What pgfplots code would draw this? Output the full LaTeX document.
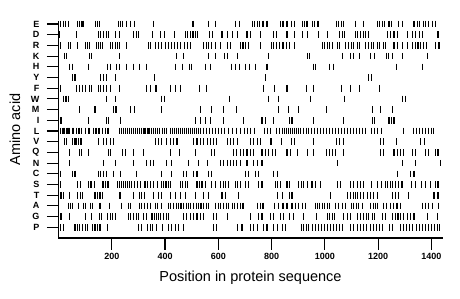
\documentclass[border=0pt]{standalone}
\usepackage{fontspec}
\setmainfont{Liberation Sans}
\usepackage{pgfplots}
\pgfplotsset{compat=1.18}
\begin{document}
\begin{tikzpicture}
\begin{axis}[
  scale only axis, width=384bp, height=217.2bp,
  xmin=0, xmax=1442, ymin=0, ymax=20.3,
  axis lines*=left,
  axis line style={line width=1.4bp},
  clip=false,
  xtick={200,400,...,1400},
  ytick={1,...,20},
  yticklabels={P,G,A,T,S,C,N,Q,V,L,I,M,W,F,Y,H,K,R,D,E},
  tick align=outside,
  major tick length=11.5bp,
  tick style={black, line width=1.1bp},
  ticklabel style={font=\bfseries\fontsize{9bp}{10bp}\selectfont},
  yticklabel style={xshift=-4bp},
  /pgf/number format/assume math mode=true,
  /pgf/number format/1000 sep={},
  xlabel={Position in protein sequence},
  ylabel={Amino acid},
  label style={font=\fontsize{14.5bp}{16bp}\selectfont},
  xlabel style={at={(axis description cs:0.5,0)}, anchor=center, yshift=-40bp},
  ylabel style={at={(axis description cs:-0.1133,0.5)}, anchor=center},
  cycle list={{black, only marks, mark=|, mark size=3.3bp, mark options={solid, black, line width=1.1bp}}},
  every axis plot post/.append style={black, only marks, mark=|, mark size=3.3bp, mark options={solid, black, fill=black, line width=1.1bp}},
]
% E
\addplot coordinates {(9,20)(18,20)(26,20)(37,20)(71,20)(78,20)(85,20)(92,20)(138,20)(146,20)(154,20)(227,20)(234,20)(242,20)(254,20)(269,20)(285,20)(357,20)(505,20)(564,20)(591,20)(664,20)(680,20)(729,20)(737,20)(746,20)(754,20)(768,20)(783,20)(833,20)(843,20)(858,20)(874,20)(886,20)(917,20)(925,20)(931,20)(936,20)(953,20)(961,20)(971,20)(977,20)(1044,20)(1053,20)(1062,20)(1069,20)(1115,20)(1147,20)(1197,20)(1207,20)(1216,20)(1225,20)(1241,20)(1250,20)(1278,20)(1291,20)(1335,20)(1348,20)(1357,20)(1369,20)(1379,20)(1391,20)(1404,20)(1416,20)};
% D
\addplot coordinates {(3,19)(66,19)(150,19)(159,19)(169,19)(179,19)(189,19)(213,19)(229,19)(281,19)(292,19)(300,19)(354,19)(382,19)(397,19)(435,19)(476,19)(485,19)(495,19)(505,19)(514,19)(522,19)(567,19)(577,19)(614,19)(633,19)(652,19)(673,19)(708,19)(720,19)(758,19)(808,19)(818,19)(858,19)(886,19)(915,19)(934,19)(977,19)(1009,19)(1056,19)(1065,19)(1074,19)(1115,19)(1124,19)(1134,19)(1144,19)(1154,19)(1164,19)(1237,19)(1247,19)(1260,19)(1272,19)(1310,19)(1329,19)(1341,19)(1354,19)(1366,19)(1425,19)};
% R
\addplot coordinates {(9,18)(37,18)(46,18)(71,18)(100,18)(108,18)(116,18)(144,18)(151,18)(159,18)(166,18)(194,18)(202,18)(213,18)(221,18)(229,18)(257,18)(338,18)(347,18)(363,18)(374,18)(386,18)(401,18)(412,18)(423,18)(435,18)(446,18)(457,18)(472,18)(483,18)(495,18)(545,18)(555,18)(564,18)(573,18)(591,18)(608,18)(635,18)(645,18)(683,18)(693,18)(703,18)(714,18)(758,18)(800,18)(806,18)(818,18)(831,18)(843,18)(856,18)(868,18)(886,18)(990,18)(999,18)(1009,18)(1019,18)(1028,18)(1047,18)(1056,18)(1078,18)(1090,18)(1099,18)(1109,18)(1122,18)(1132,18)(1153,18)(1165,18)(1174,18)(1184,18)(1197,18)(1207,18)(1220,18)(1228,18)(1260,18)(1272,18)(1291,18)(1310,18)(1329,18)(1341,18)(1350,18)(1360,18)(1370,18)(1383,18)(1416,18)(1429,18)};
% K
\addplot coordinates {(24,17)(31,17)(116,17)(125,17)(229,17)(442,17)(470,17)(564,17)(589,17)(622,17)(633,17)(673,17)(788,17)(936,17)(943,17)(1065,17)(1097,17)(1109,17)(1132,17)(1172,17)(1187,17)(1232,17)(1240,17)(1253,17)(1291,17)(1385,17)};
% H
\addplot coordinates {(43,16)(53,16)(112,16)(185,16)(194,16)(219,16)(228,16)(257,16)(281,16)(304,16)(332,16)(438,16)(467,16)(492,16)(501,16)(551,16)(570,16)(648,16)(664,16)(680,16)(702,16)(717,16)(739,16)(783,16)(956,16)(965,16)(1019,16)(1032,16)(1270,16)(1366,16)};
% Y
\addplot coordinates {(53,15)(62,15)(159,15)(169,15)(179,15)(213,15)(359,15)(777,15)(1165,15)(1174,15)};
% F
\addplot coordinates {(9,14)(68,14)(78,14)(91,14)(100,14)(116,14)(125,14)(150,14)(159,14)(169,14)(179,14)(194,14)(229,14)(332,14)(344,14)(363,14)(369,14)(420,14)(438,14)(457,14)(530,14)(557,14)(770,14)(811,14)(858,14)(931,14)(959,14)(1062,14)(1097,14)(1132,14)(1207,14)};
% W
\addplot coordinates {(18,13)(28,13)(37,13)(181,13)(213,13)(388,13)(397,13)(643,13)(789,13)(827,13)(946,13)(1074,13)(1291,13)(1303,13)};
% M
\addplot coordinates {(78,12)(137,12)(206,12)(216,12)(269,12)(287,12)(388,12)(532,12)(576,12)(620,12)(668,12)(827,12)(865,12)(902,12)(1006,12)(1178,12)(1209,12)(1253,12)};
% I
\addplot coordinates {(6,11)(12,11)(112,11)(179,11)(187,11)(234,11)(514,11)(532,11)(551,11)(570,11)(620,11)(695,11)(764,11)(777,11)(808,11)(868,11)(877,11)(959,11)(1069,11)(1178,11)(1187,11)(1241,11)(1250,11)(1260,11)};
% L
\addplot coordinates {(9,10)(17,10)(24,10)(32,10)(36,10)(43,10)(51,10)(58,10)(66,10)(77,10)(88,10)(100,10)(111,10)(118,10)(130,10)(141,10)(152,10)(164,10)(175,10)(186,10)(228,10)(235,10)(243,10)(250,10)(258,10)(265,10)(273,10)(280,10)(288,10)(295,10)(303,10)(310,10)(318,10)(325,10)(333,10)(340,10)(348,10)(356,10)(363,10)(371,10)(378,10)(389,10)(397,10)(404,10)(419,10)(427,10)(435,10)(442,10)(450,10)(457,10)(465,10)(472,10)(480,10)(487,10)(495,10)(502,10)(510,10)(517,10)(525,10)(532,10)(544,10)(555,10)(566,10)(577,10)(589,10)(600,10)(611,10)(623,10)(638,10)(653,10)(668,10)(683,10)(698,10)(709,10)(720,10)(735,10)(773,10)(784,10)(796,10)(818,10)(830,10)(841,10)(848,10)(856,10)(863,10)(871,10)(878,10)(886,10)(893,10)(901,10)(908,10)(920,10)(931,10)(939,10)(950,10)(961,10)(972,10)(984,10)(995,10)(1006,10)(1018,10)(1029,10)(1040,10)(1051,10)(1063,10)(1074,10)(1085,10)(1097,10)(1108,10)(1119,10)(1130,10)(1142,10)(1153,10)(1175,10)(1187,10)(1198,10)(1213,10)(1296,10)(1334,10)(1345,10)(1356,10)(1368,10)(1379,10)(1390,10)(1401,10)(1409,10)};
% V
\addplot coordinates {(24,9)(31,9)(53,9)(62,9)(68,9)(74,9)(81,9)(87,9)(150,9)(169,9)(179,9)(194,9)(206,9)(363,9)(375,9)(388,9)(407,9)(420,9)(432,9)(445,9)(507,9)(520,9)(532,9)(545,9)(558,9)(570,9)(582,9)(595,9)(635,9)(645,9)(658,9)(673,9)(720,9)(733,9)(746,9)(758,9)(798,9)(836,9)(874,9)(886,9)(959,9)(1044,9)(1056,9)(1069,9)(1209,9)(1222,9)(1270,9)(1360,9)(1375,9)};
% Q
\addplot coordinates {(43,8)(78,8)(87,8)(112,8)(187,8)(196,8)(242,8)(250,8)(281,8)(319,8)(419,8)(454,8)(514,8)(576,8)(585,8)(658,8)(670,8)(683,8)(695,8)(708,8)(720,8)(733,8)(764,8)(777,8)(789,8)(802,8)(815,8)(858,8)(871,8)(896,8)(934,8)(959,8)(1006,8)(1019,8)(1028,8)(1040,8)(1071,8)(1209,8)(1219,8)(1260,8)(1272,8)(1284,8)(1297,8)(1329,8)(1341,8)(1379,8)(1391,8)(1416,8)(1425,8)};
% N
\addplot coordinates {(43,7)(169,7)(213,7)(281,7)(332,7)(344,7)(357,7)(407,7)(426,7)(488,7)(526,7)(558,7)(608,7)(620,7)(633,7)(645,7)(658,7)(670,7)(683,7)(708,7)(733,7)(746,7)(764,7)(1047,7)(1291,7)(1341,7)(1433,7)};
% C
\addplot coordinates {(9,6)(53,6)(62,6)(150,6)(159,6)(169,6)(179,6)(206,6)(234,6)(294,6)(388,6)(426,6)(469,6)(482,6)(507,6)(520,6)(564,6)(576,6)(702,6)(714,6)(739,6)(752,6)(808,6)(821,6)(1272,6)(1322,6)(1335,6)};
% S
\addplot coordinates {(6,5)(70,5)(81,5)(111,5)(122,5)(134,5)(167,5)(175,5)(186,5)(220,5)(228,5)(235,5)(243,5)(250,5)(258,5)(265,5)(273,5)(284,5)(295,5)(307,5)(325,5)(333,5)(344,5)(356,5)(371,5)(388,5)(394,5)(401,5)(407,5)(413,5)(420,5)(457,5)(466,5)(476,5)(485,5)(520,5)(530,5)(539,5)(551,5)(576,5)(589,5)(608,5)(618,5)(626,5)(639,5)(664,5)(673,5)(683,5)(702,5)(714,5)(752,5)(764,5)(815,5)(823,5)(833,5)(858,5)(868,5)(902,5)(911,5)(921,5)(934,5)(952,5)(965,5)(984,5)(1047,5)(1059,5)(1097,5)(1109,5)(1122,5)(1134,5)(1147,5)(1177,5)(1199,5)(1214,5)(1227,5)(1237,5)(1246,5)(1255,5)(1265,5)(1277,5)(1290,5)(1327,5)(1342,5)(1363,5)(1378,5)(1396,5)(1415,5)(1425,5)};
% T
\addplot coordinates {(6,4)(12,4)(18,4)(43,4)(71,4)(81,4)(91,4)(137,4)(146,4)(156,4)(166,4)(231,4)(281,4)(304,4)(313,4)(322,4)(357,4)(375,4)(388,4)(420,4)(438,4)(457,4)(476,4)(514,4)(545,4)(564,4)(614,4)(626,4)(676,4)(821,4)(840,4)(868,4)(877,4)(1021,4)(1084,4)(1097,4)(1107,4)(1115,4)(1124,4)(1134,4)(1147,4)(1159,4)(1172,4)(1184,4)(1199,4)(1253,4)(1266,4)(1278,4)(1316,4)(1410,4)(1425,4)};
% A
\addplot coordinates {(37,3)(46,3)(53,3)(74,3)(93,3)(103,3)(119,3)(129,3)(156,3)(191,3)(238,3)(263,3)(272,3)(304,3)(313,3)(322,3)(333,3)(344,3)(363,3)(372,3)(388,3)(413,3)(422,3)(432,3)(442,3)(451,3)(460,3)(469,3)(480,3)(488,3)(497,3)(507,3)(517,3)(526,3)(535,3)(545,3)(555,3)(564,3)(589,3)(601,3)(610,3)(620,3)(630,3)(639,3)(652,3)(660,3)(673,3)(683,3)(693,3)(746,3)(758,3)(768,3)(811,3)(827,3)(843,3)(858,3)(877,3)(890,3)(902,3)(915,3)(927,3)(965,3)(974,3)(981,3)(990,3)(999,3)(1009,3)(1019,3)(1040,3)(1053,3)(1065,3)(1078,3)(1099,3)(1109,3)(1119,3)(1128,3)(1141,3)(1172,3)(1182,3)(1191,3)(1199,3)(1221,3)(1233,3)(1246,3)(1258,3)(1271,3)(1284,3)(1366,3)(1379,3)(1391,3)(1404,3)(1428,3)};
% G
\addplot coordinates {(6,2)(12,2)(43,2)(100,2)(125,2)(153,2)(163,2)(184,2)(194,2)(204,2)(213,2)(263,2)(272,2)(281,2)(292,2)(300,2)(319,2)(329,2)(351,2)(359,2)(369,2)(375,2)(384,2)(394,2)(404,2)(413,2)(469,2)(482,2)(495,2)(507,2)(520,2)(532,2)(545,2)(582,2)(595,2)(633,2)(720,2)(752,2)(764,2)(796,2)(808,2)(833,2)(846,2)(868,2)(881,2)(921,2)(969,2)(1009,2)(1019,2)(1028,2)(1036,2)(1071,2)(1084,2)(1097,2)(1122,2)(1134,2)(1147,2)(1157,2)(1165,2)(1178,2)(1187,2)(1216,2)(1228,2)(1253,2)(1266,2)(1275,2)(1285,2)(1297,2)(1310,2)(1322,2)(1335,2)(1385,2)(1423,2)};
% P
\addplot coordinates {(9,1)(18,1)(62,1)(71,1)(78,1)(91,1)(100,1)(108,1)(129,1)(137,1)(146,1)(156,1)(184,1)(300,1)(313,1)(333,1)(344,1)(354,1)(367,1)(389,1)(413,1)(426,1)(438,1)(451,1)(469,1)(582,1)(595,1)(673,1)(689,1)(720,1)(733,1)(746,1)(770,1)(783,1)(808,1)(821,1)(840,1)(852,1)(911,1)(920,1)(931,1)(940,1)(954,1)(965,1)(976,1)(988,1)(999,1)(1010,1)(1021,1)(1033,1)(1044,1)(1055,1)(1066,1)(1097,1)(1108,1)(1123,1)(1134,1)(1146,1)(1157,1)(1172,1)(1183,1)(1194,1)(1206,1)(1217,1)(1242,1)(1255,1)(1284,1)(1296,1)(1307,1)(1319,1)(1330,1)(1345,1)(1356,1)(1367,1)(1379,1)(1390,1)(1401,1)(1413,1)(1424,1)(1431,1)};
\end{axis}
\path ([xshift=-58.5bp,yshift=-61bp]current axis.south west) rectangle ([xshift=17.5bp,yshift=20.8bp]current axis.north east);
\end{tikzpicture}
\end{document}
